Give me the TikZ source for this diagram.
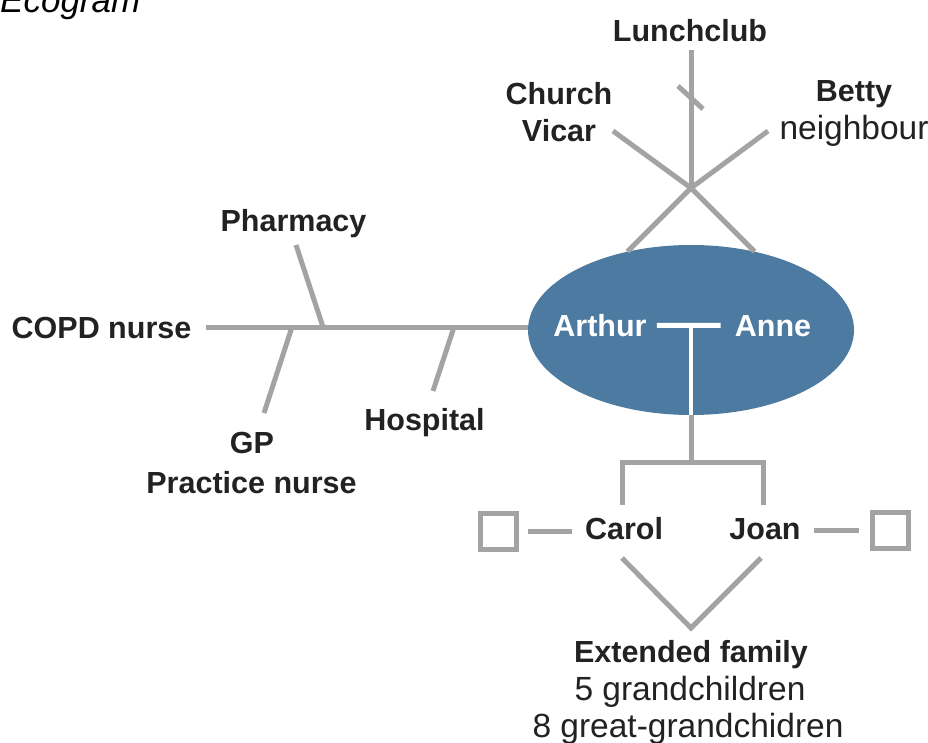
\documentclass[tikz,border=0pt]{standalone}
\usepackage{fontspec}
\setmainfont{Liberation Sans}
\usetikzlibrary{shapes.geometric}
\usetikzlibrary{positioning}
\definecolor{linegray}{HTML}{A3A3A3}
\definecolor{ink}{HTML}{222222}
\definecolor{coupleblue}{HTML}{4D7AA0}

\begin{document}
\begin{tikzpicture}[x=1pt,y=-1pt,
    link/.style={draw=linegray,line width=5pt},
    wed link/.style={draw=white,line width=5pt},
    name node/.style={font=\bfseries\fontsize{30.5}{36}\selectfont,text=ink,anchor=base,inner sep=0pt},
    role node/.style={font=\fontsize{33.5}{36}\selectfont,text=ink,anchor=base,inner sep=0pt},
    box node/.style={rectangle,draw=linegray,line width=5pt,minimum size=36pt,inner sep=0pt}]
  \useasboundingbox (0,0) rectangle (928,743);
  \begin{scope}%[yshift=0pt]
    \node[role node,text=black,font=\itshape\fontsize{35}{36}\selectfont,anchor=base west] (title) at (0,13) {Ecogram};
    \node[ellipse,fill=coupleblue,minimum width=326pt,minimum height=170pt,inner sep=0pt] (couple) at (691,330) {};
    \node[name node,text=white] (arthur) at (600,336) {Arthur};
    \node[name node,text=white] (anne) at (773,336) {Anne};
    % upper ties
    \node[name node] (lunch) at (690,42) {Lunchclub};
    \node[name node] (church) at (559,105) {Church};
    \node[name node] (vicar) at (559,142) {Vicar};
    \node[name node] (betty) at (854,102) {Betty};
    \node[role node] (neighbour) at (854,140) {neighbour};
    \coordinate (hub) at (691,188);
    \coordinate (lctop) at (691,50);
    \coordinate (chend) at (613,131);
    \coordinate (btend) at (768,131);
    \coordinate (tka) at (678,86);
    \coordinate (tkb) at (703,109);
    % left ties
    \node[name node] (pharmacy) at (293.5,232) {Pharmacy};
    \node[name node] (copd) at (101.5,338) {COPD nurse};
    \node[name node] (hospital) at (424.5,430) {Hospital};
    \node[name node] (gp) at (252,453) {GP};
    \node[name node] (practice) at (251.5,493) {Practice nurse};
    \coordinate (spine) at (206,327);
    \coordinate (pha) at (296,245);
    \coordinate (phb) at (323,327);
    \coordinate (gpa) at (292,327);
    \coordinate (gpb) at (264,413);
    \coordinate (hsa) at (454,327);
    \coordinate (hsb) at (433,391);
    % children
    \node[name node] (carol) at (624,539) {Carol};
    \node[name node] (joan) at (765,539) {Joan};
    \node[box node] (carolpartner) at (498.5,531) {};
    \node[box node] (joanpartner) at (890,530) {};
    \node[name node] (extended) at (691,662) {Extended family};
    \node[role node] (grandkids) at (690,700) {5 grandchildren};
    \node[role node] (greatkids) at (688,737) {8 great-grandchidren};
    \coordinate (sib) at (691,462);
    \coordinate (carolup) at (622,505);
    \coordinate (joanup) at (763,505);
    \coordinate (caroldn) at (622,558);
    \coordinate (vtip) at (691,628);
    \coordinate (joandn) at (761,558);

    \path[link] (hub) edge (lctop);
    \path[link] (tka) edge (tkb);
    \path[link] (hub) edge (chend);
    \path[link] (hub) edge (btend);
    \path[link] (hub) edge (couple.129);
    \path[link] (hub) edge (couple.51);
    \path[link] (spine) edge (spine -| couple.west);
    \path[link] (pha) edge (phb);
    \path[link] (gpa) edge (gpb);
    \path[link] (hsa) edge (hsb);
    \path[wed link,shorten <=10pt,shorten >=14pt] (arthur) edge (anne);
    \path[wed link,line width=4pt] (couple |- anne) edge (couple.south);
    \path[link] (couple.south) edge (sib);
    \draw[link] (carolup) |- (sib) -| (joanup);
    \draw[link] (caroldn) -- (vtip) -- (joandn);
    \path[link,shorten <=9pt,shorten >=13pt] (carolpartner.east) edge (carolpartner.east -| carol.west);
    \path[link,shorten <=13pt,shorten >=11pt] (joanpartner.west -| joan.east) edge (joanpartner.west);
  \end{scope}
\end{tikzpicture}
\end{document}
